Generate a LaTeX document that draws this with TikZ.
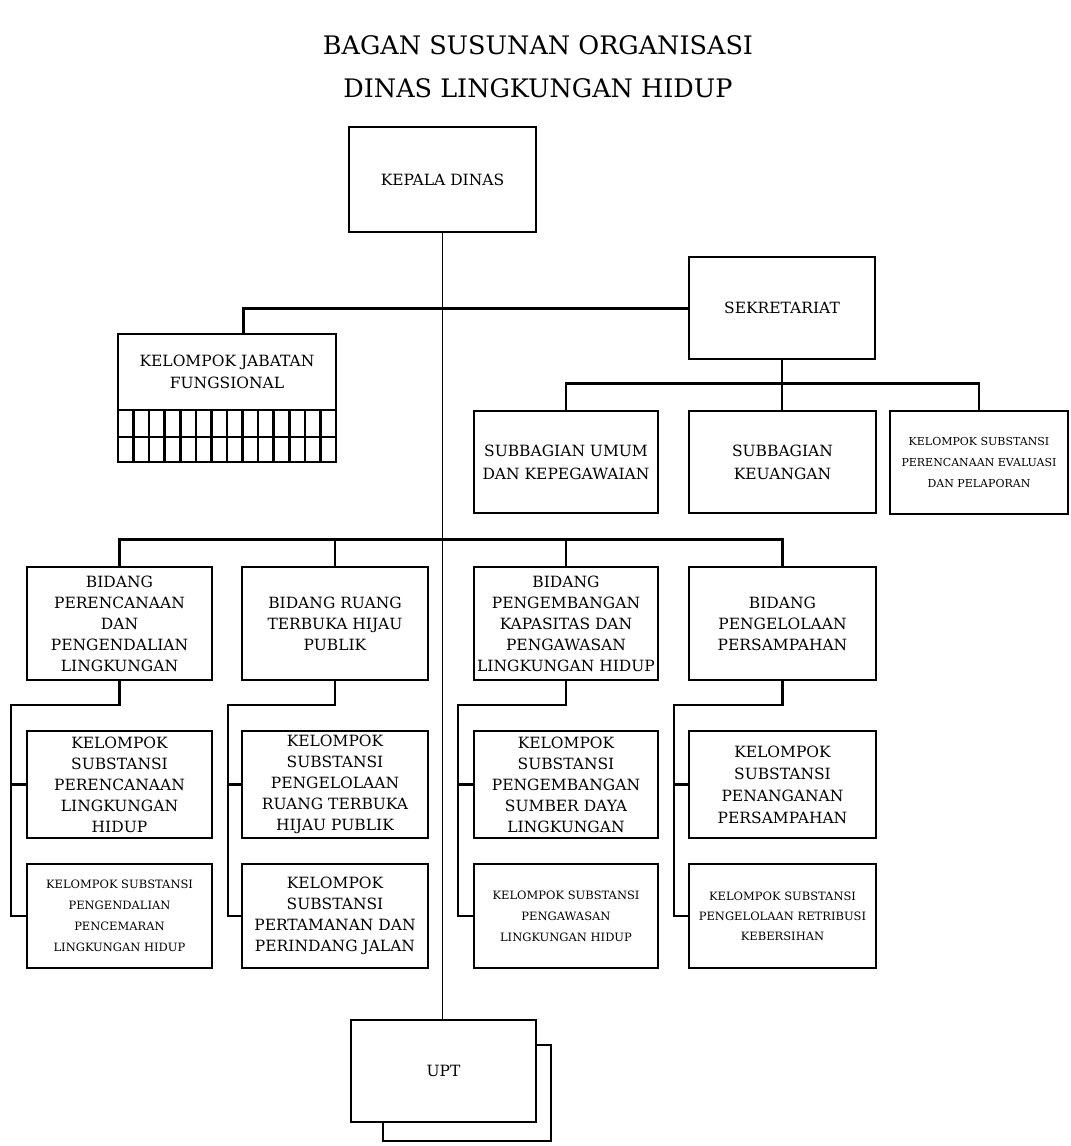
\documentclass[tikz,border=0pt]{standalone}
\usepackage{fontspec}
\setmainfont{DejaVu Serif}
\begin{document}
\begin{tikzpicture}[x=1pt,y=-1pt,
  box/.style={draw, line width=2.8pt, inner sep=0pt, align=center, fill=white,
    font=\fontsize{15.5}{21}\selectfont},
  smallbox/.style={box, font=\fontsize{11.5}{21}\selectfont},
  conn/.style={line width=2.6pt},
  mainline/.style={line width=1.8pt},
  ttl/.style={font=\fontsize{25.5}{30}\selectfont, inner sep=0pt}
]
\useasboundingbox (0,0) rectangle (1071,1146);
% titles
\node[ttl] (t1) at (538,45) {BAGAN SUSUNAN ORGANISASI};
\node[ttl] (t2) at (538,88) {DINAS LINGKUNGAN HIDUP};

% UPT shadow (behind)
\draw[line width=2pt] (383,1045) rectangle (551,1141);

% top level
\node[box, minimum width=187pt, minimum height=105pt] (kd) at (442.5,179.5) {KEPALA DINAS};
\node[box, minimum width=185pt, minimum height=102pt] (upt) at (443.5,1071) {UPT};
\draw[mainline] (kd.south) -- (kd.south |- upt.north);

\node[box, minimum width=186pt, minimum height=102pt] (sek) at (782,308) {SEKRETARIAT};

% kelompok jabatan fungsional
\node[box, minimum width=218pt, minimum height=128pt] (kjf) at (227,398) {};
\node[inner sep=0pt, align=center, font=\fontsize{15.5}{22}\selectfont] (kjft) at (227,372) {KELOMPOK JABATAN\\FUNGSIONAL};
\draw[conn] (kjf.west |- 0,410) -- (kjf.east |- 0,410);
\draw[conn] (kjf.west |- 0,437) -- (kjf.east |- 0,437);
\foreach \k in {1,...,13} {
  \draw[conn] ({118+\k*218/14},410) -- ({118+\k*218/14},462);
}
\coordinate (kjftop) at (243,334);
\draw[conn, line width=3pt] (kjftop) |- (sek.west);

% secretariat subunits
\node[box, minimum width=184pt, minimum height=102pt, font=\fontsize{15.5}{23}\selectfont] (sum) at (566,462) {SUBBAGIAN UMUM\\DAN KEPEGAWAIAN};
\node[box, minimum width=187pt, minimum height=102pt, font=\fontsize{15.5}{23}\selectfont] (keu) at (782.5,462) {SUBBAGIAN\\KEUANGAN};
\node[smallbox, minimum width=178pt, minimum height=103pt, font=\fontsize{11}{21}\selectfont] (pep) at (979,462.5) {KELOMPOK SUBSTANSI\\PERENCANAAN EVALUASI\\DAN PELAPORAN};
\draw[conn] (sum.north) -- ++(0,-26) -| (pep.north);
\draw[conn] (sek.south) -- (sek.south |- sum.north);

% bidang
\node[box, minimum width=185pt, minimum height=113pt] (b1) at (119.5,623.5) {BIDANG\\PERENCANAAN\\DAN\\PENGENDALIAN\\LINGKUNGAN};
\node[box, minimum width=186pt, minimum height=113pt] (b2) at (335,623.5) {BIDANG RUANG\\TERBUKA HIJAU\\PUBLIK};
\node[box, minimum width=184pt, minimum height=113pt] (b3) at (566,623.5) {BIDANG\\PENGEMBANGAN\\KAPASITAS DAN\\PENGAWASAN\\LINGKUNGAN HIDUP};
\node[box, minimum width=187pt, minimum height=113pt] (b4) at (782.5,623.5) {BIDANG\\PENGELOLAAN\\PERSAMPAHAN};
\draw[conn] (b1.north) -- ++(0,-26) -| (b4.north);
\draw[conn] (b2.north) -- ++(0,-26);
\draw[conn] (b3.north) -- ++(0,-26);

% kelompok substansi row 1
\node[box, minimum width=185pt, minimum height=107pt] (s11) at (119.5,784.5) {KELOMPOK\\SUBSTANSI\\PERENCANAAN\\LINGKUNGAN\\HIDUP};
\node[box, minimum width=186pt, minimum height=107pt] (s21) at (335,784.5) {KELOMPOK\\SUBSTANSI\\PENGELOLAAN\\RUANG TERBUKA\\HIJAU PUBLIK};
\node[box, minimum width=184pt, minimum height=107pt] (s31) at (566,784.5) {KELOMPOK\\SUBSTANSI\\PENGEMBANGAN\\SUMBER DAYA\\LINGKUNGAN};
\node[box, minimum width=187pt, minimum height=107pt, font=\fontsize{15.5}{22}\selectfont] (s41) at (782.5,784.5) {KELOMPOK\\SUBSTANSI\\PENANGANAN\\PERSAMPAHAN};

% kelompok substansi row 2
\node[smallbox, minimum width=185pt, minimum height=104pt] (s12) at (119.5,916) {KELOMPOK SUBSTANSI\\PENGENDALIAN\\PENCEMARAN\\LINGKUNGAN HIDUP};
\node[box, minimum width=186pt, minimum height=104pt] (s22) at (335,916) {KELOMPOK\\SUBSTANSI\\PERTAMANAN DAN\\PERINDANG JALAN};
\node[smallbox, minimum width=184pt, minimum height=104pt] (s32) at (566,916) {KELOMPOK SUBSTANSI\\PENGAWASAN\\LINGKUNGAN HIDUP};
\node[smallbox, minimum width=187pt, minimum height=104pt, font=\fontsize{11.5}{20}\selectfont] (s42) at (782.5,916) {KELOMPOK SUBSTANSI\\PENGELOLAAN RETRIBUSI\\KEBERSIHAN};

% spines
\coordinate (sp1) at (11,705);
\coordinate (sp2) at (228,705);
\coordinate (sp3) at (458,705);
\coordinate (sp4) at (674,705);
\draw[conn] (b1.south) |- (sp1) |- (s12.west);
\draw[conn] (sp1 |- s11.west) -- (s11.west);
\draw[conn] (b2.south) |- (sp2) |- (s22.west);
\draw[conn] (sp2 |- s21.west) -- (s21.west);
\draw[conn] (b3.south) |- (sp3) |- (s32.west);
\draw[conn] (sp3 |- s31.west) -- (s31.west);
\draw[conn] (b4.south) |- (sp4) |- (s42.west);
\draw[conn] (sp4 |- s41.west) -- (s41.west);
\end{tikzpicture}
\end{document}
